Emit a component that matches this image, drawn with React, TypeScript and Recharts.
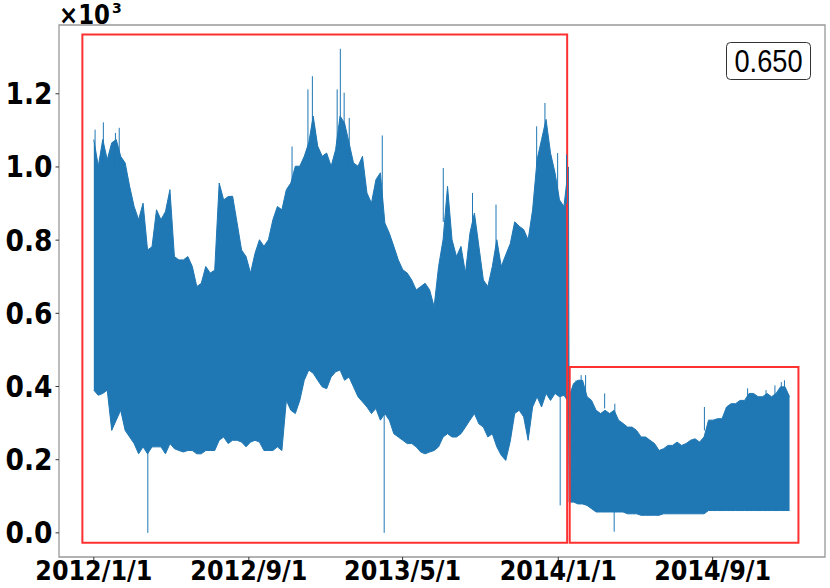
import { ComposedChart, Area, Line, XAxis, YAxis, ReferenceArea } from 'recharts'

const xTickDays = [0, 244, 486, 731, 974]
const xTickLabels = ['2012/1/1', '2012/9/1', '2013/5/1', '2014/1/1', '2014/9/1']
const yTicks = [0, 200, 400, 600, 800, 1000, 1200]

// weekly envelope of the hourly load, first period (2012/1/1 .. mid Jan 2014)
const seg1Start = 0
const seg1End = 747
const seg1High = [
  1075, 1002, 1075, 1020, 1066, 1075, 1029, 1011, 947, 892, 856, 901, 773, 782, 883, 856,
  878, 938, 755, 746, 746, 755, 728, 673, 682, 728, 710, 718, 956, 910, 919, 920,
  847, 773, 755, 710, 764, 801, 783, 801, 856, 892, 883, 938, 956, 1002, 1002, 1029,
  1066, 1139, 1057, 1029, 1038, 1002, 1047, 1139, 1120, 1066, 1011, 1002, 1029, 929, 901, 965,
  984, 847, 819, 783, 746, 719, 710, 691, 664, 673, 682, 664, 618, 728, 801, 947,
  801, 755, 783, 710, 819, 874, 783, 691, 673, 728, 801, 728, 760, 790, 850, 838,
  829, 801, 883, 1020, 1075, 1130, 1038, 984, 910, 892, 1000,
]
const seg1Low = [
  390, 376, 381, 390, 280, 308, 335, 280, 262, 244, 216, 235, 216, 235, 235, 235,
  216, 244, 230, 225, 221, 225, 225, 216, 216, 225, 225, 225, 253, 262, 244, 253,
  253, 248, 235, 248, 253, 248, 225, 225, 225, 235, 225, 362, 335, 326, 362, 417,
  445, 436, 417, 399, 394, 426, 440, 445, 417, 426, 399, 372, 358, 344, 326, 340,
  308, 326, 308, 271, 262, 253, 244, 244, 235, 221, 216, 221, 225, 235, 262, 271,
  262, 262, 271, 289, 308, 326, 298, 289, 262, 271, 235, 212, 198, 250, 326, 335,
  317, 253, 344, 372, 344, 381, 362, 381, 372, 376, 358,
]

// second period (mid Jan 2014 .. 2014/12/31)
const seg2Start = 748
const seg2End = 1095
const seg2High = [
  372, 408, 417, 417, 372, 362, 335, 326, 335, 326, 335, 308, 299, 289, 289, 280,
  262, 262, 253, 244, 225, 230, 239, 239, 248, 239, 244, 253, 257, 248, 262, 308,
  308, 312, 312, 344, 353, 353, 362, 362, 381, 381, 372, 372, 381, 372, 381, 399,
  399, 372,
]
const seg2Low = [
  84, 84, 79, 79, 75, 66, 57, 57, 57, 57, 57, 57, 57, 52, 52, 52,
  48, 48, 48, 48, 48, 52, 52, 52, 52, 52, 52, 52, 52, 52, 52, 61,
  61, 61, 61, 61, 61, 61, 61, 61, 61, 61, 61, 61, 61, 61, 61, 61,
  61, 61,
]

// single-hour drops and peaks sticking out of the envelope
const dipDays = [85, 457, 734, 819]
const dipFrom = [250, 350, 380, 60]
const dipTo = [0, 0, 75, 3]

const spikeDays = [
  2, 15, 34, 40, 312, 337, 344, 383, 388, 394, 402, 454, 550, 596, 633, 697, 710, 730, 744,
  759, 767, 774, 804, 820, 961, 1029, 1058, 1072, 1082, 1087,
]
const spikeFrom = [
  1000, 1000, 1000, 1000, 950, 1000, 1050, 1050, 1050, 1050, 1000, 900, 850, 800, 750, 1000, 1050, 900, 900,
  360, 380, 380, 340, 320, 280, 350, 350, 360, 360, 360,
]
const spikeTo = [
  1102, 1122, 1093, 1107, 1056, 1212, 1248, 1212, 1323, 1203, 1134, 1086, 997, 929, 897, 1111, 1175, 1038, 1034,
  417, 431, 431, 381, 353, 344, 395, 390, 403, 412, 417,
]

// highlighted periods
const boxX1 = [-18, 749]
const boxX2 = [745, 1109]
const boxY1 = [-27, -27]
const boxY2 = [1362, 453]

const score = '0.650'

const blue = '#1f77b4'
const xDomain = [-54.8, 1150.8]
const yDomain = [-66, 1388]

const rows: { day: number; load: [number, number] }[] = []
seg1High.forEach((h, i) => {
  rows.push({ day: seg1Start + ((seg1End - seg1Start) * i) / (seg1High.length - 1), load: [seg1Low[i], h] })
})
seg2High.forEach((h, i) => {
  rows.push({ day: seg2Start + ((seg2End - seg2Start) * i) / (seg2High.length - 1), load: [seg2Low[i], h] })
})

const strokeRows = (days: number[], from: number[], to: number[]) =>
  days.flatMap((d, i) => [
    { day: d, v: from[i] },
    { day: d, v: to[i] },
    { day: d + 0.01, v: null },
  ])

const outlierRows = [...strokeRows(dipDays, dipFrom, dipTo), ...strokeRows(spikeDays, spikeFrom, spikeTo)]

const XTick = ({ x, y, payload }: any) => {
  const label = xTickLabels[xTickDays.indexOf(payload.value)]
  return (
    <text
      x={x}
      y={y + 17}
      textAnchor="middle"
      fontFamily="'DejaVu Sans', sans-serif"
      fontWeight="bold"
      fontSize={27}
      textLength={117}
      lengthAdjust="spacingAndGlyphs"
      fill="#000"
    >
      {label}
    </text>
  )
}

const YTick = ({ x, y, payload }: any) => (
  <text
    x={x - 48}
    y={y + 10.5}
    textAnchor="start"
    fontFamily="'DejaVu Sans', sans-serif"
    fontWeight="bold"
    fontSize={30}
    textLength={47}
    lengthAdjust="spacingAndGlyphs"
    fill="#000"
  >
    {(payload.value / 1000).toFixed(1)}
  </text>
)

export default function App() {
  return (
    <div style={{ position: 'absolute', left: 0, top: 0, width: 830, height: 588, background: '#fff' }}>
      <ComposedChart width={830} height={588} data={rows} margin={{ top: 25, right: 5, bottom: 0, left: 0 }}>
        <XAxis
          dataKey="day"
          type="number"
          domain={xDomain}
          ticks={xTickDays}
          allowDataOverflow
          height={31}
          axisLine={false}
          tickSize={3.5}
          tickLine={{ stroke: '#333' }}
          tick={<XTick />}
        />
        <YAxis
          type="number"
          domain={yDomain}
          ticks={yTicks}
          allowDataOverflow
          width={59}
          axisLine={false}
          tickSize={3.5}
          tickLine={{ stroke: '#333' }}
          tick={<YTick />}
        />
        <Area
          dataKey="load"
          type="linear"
          stroke={blue}
          strokeWidth={1}
          fill={blue}
          fillOpacity={1}
          dot={false}
          activeDot={false}
          isAnimationActive={false}
        />
        <Line
          data={outlierRows}
          dataKey="v"
          type="linear"
          stroke={blue}
          strokeWidth={1}
          dot={false}
          activeDot={false}
          connectNulls={false}
          isAnimationActive={false}
        />
        {boxX1.map((x1, i) => (
          <ReferenceArea
            key={i}
            x1={x1}
            x2={boxX2[i]}
            y1={boxY1[i]}
            y2={boxY2[i]}
            fill="none"
            fillOpacity={0}
            stroke="#ff3030"
            strokeWidth={2}
            ifOverflow="visible"
          />
        ))}
        <ReferenceArea
          x1={xDomain[0]}
          x2={xDomain[1]}
          y1={yDomain[0]}
          y2={yDomain[1]}
          fill="none"
          fillOpacity={0}
          stroke="#999"
          strokeWidth={1.3}
          ifOverflow="visible"
        />
      </ComposedChart>
      <svg style={{ position: 'absolute', left: 0, top: 0 }} width={140} height={30}>
        <text x={59} y={23.5} fontFamily="'DejaVu Sans', sans-serif" fontWeight="bold" fill="#000">
          <tspan fontSize={26} textLength={51} lengthAdjust="spacingAndGlyphs">
            ×10
          </tspan>
          <tspan fontSize={14} dx={2} dy={-11}>
            3
          </tspan>
        </text>
      </svg>
      <svg style={{ position: 'absolute', left: 720, top: 36 }} width={100} height={50}>
        <rect x={6.5} y={6.5} width={84} height={37} rx={4} fill="#fff" stroke="#333" strokeWidth={1} />
        <text
          x={48.5}
          y={36}
          textAnchor="middle"
          fontFamily="'Liberation Sans', sans-serif"
          fontSize={32}
          textLength={68}
          lengthAdjust="spacingAndGlyphs"
          fill="#000"
        >
          {score}
        </text>
      </svg>
    </div>
  )
}
